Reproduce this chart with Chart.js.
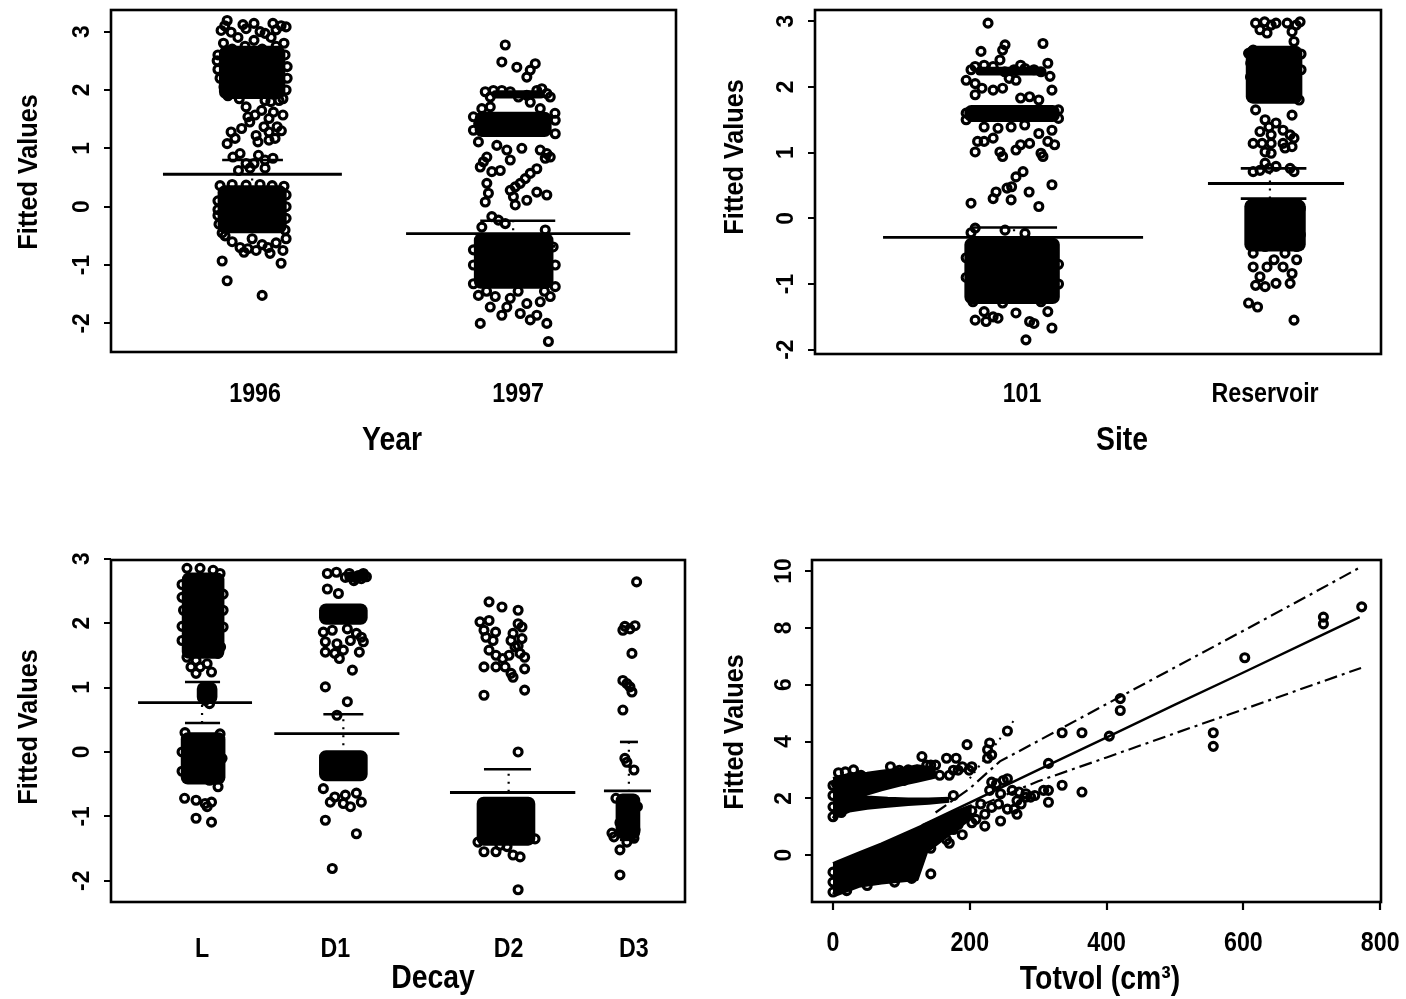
<!DOCTYPE html>
<html>
<head>
<meta charset="utf-8">
<title>Fitted values</title>
<script src="https://cdn.jsdelivr.net/npm/chart.js@4.4.1/dist/chart.umd.min.js"></script>
<style>
  html, body { margin: 0; padding: 0; background: #fff; }
  #wrap { position: relative; width: 1406px; height: 999px; overflow: hidden; }
  canvas { position: absolute; }
</style>
</head>
<body>
<div id="wrap">
  <canvas id="cYear" width="703" height="500" style="left:0;top:0"></canvas>
  <canvas id="cSite" width="703" height="500" style="left:703px;top:0"></canvas>
  <canvas id="cDecay" width="703" height="499" style="left:0;top:500px"></canvas>
  <canvas id="cTotvol" width="703" height="499" style="left:703px;top:500px"></canvas>
</div>
<script>
// ---------------- Year ----------------
const yearCats = ['1996', '1997'];
const yearPos = [1, 2];
const stripTicks = [-2, -1, 0, 1, 2, 3];
const yearMean = [0.556, -0.46];
const yearLimits = [[0.31, 0.80], [-0.68, -0.24]];
// dense bands: [jitter centre, low, high, jitter spread]
const yearCore1996 = [[-0.011, 1.85, 2.75, 0.25], [-0.011, -0.45, 0.36, 0.26]];
const yearCore1997 = [[-0.019, 1.2, 1.62, 0.29], [0.0, 1.86, 1.99, 0.2], [-0.017, -1.4, -0.46, 0.30]];
// individual fitted values: [jitter, value]
const yearPts1996 = [
  [-0.129,3.02],[-0.106,3.19],[-0.091,2.99],[-0.065,2.9],[-0.034,3.05],[-0.004,3.14],[-0.004,2.85],[0.038,2.97],
  [0.068,3.14],[0.061,2.9],[0.099,3.1],[0.118,3.08],[0.019,3.0],[-0.046,3.12],[-0.115,3.1],[0.08,3.03],
  [-0.144,2.5],[-0.141,2.35],[-0.133,2.2],[0.114,2.6],[0.122,2.4],[0.122,2.2],[0.118,2.0],[-0.118,2.05],
  [-0.103,1.9],[0.106,1.85],[-0.087,2.7],[-0.038,2.75],[0.08,2.75],[0.027,2.7],[-0.141,2.6],[-0.12,2.8],
  [0.11,2.8],[-0.06,1.85],[0.06,1.8],
  [-0.091,1.28],[-0.106,1.08],[-0.076,1.17],[-0.051,1.34],[-0.034,1.71],[-0.027,1.54],[0,1.57],[0.025,1.65],
  [0.038,1.82],[0.034,1.37],[0.004,1.22],[0.053,1.28],[0.076,1.17],[0.084,1.37],[0.106,1.57],[0.091,1.82],
  [0.053,1.51],[0.011,1.11],[0.053,1.14],[-0.02,1.45],[0.07,1.62],[0.1,1.3],
  [-0.084,0.85],[-0.057,0.91],[-0.034,0.74],[-0.004,0.74],[0.013,0.88],[0.038,0.8],[-0.063,0.62],[0.038,0.66],
  [-0.019,0.66],[0.068,0.83],
  [-0.133,0.36],[-0.087,0.38],[-0.034,0.37],[0.019,0.38],[0.065,0.36],[0.11,0.35],
  [-0.141,0.1],[-0.141,-0.05],[0.118,0.2],[0.118,0.0],[0.118,-0.2],
  [-0.114,-0.5],[-0.087,-0.6],[-0.057,-0.7],[-0.027,-0.72],[0.004,-0.75],[0.027,-0.65],[0.049,-0.7],[0.08,-0.62],
  [0.106,-0.75],[0.118,-0.55],[0.114,-0.4],[-0.137,-0.3],[-0.141,-0.15],[-0.125,-0.45],[-0.042,-0.78],[0.057,-0.8],
  [-0.011,-0.55],
  [-0.125,-0.93],[-0.106,-1.27],[0.027,-1.52],[0.099,-0.97]
];
const yearPts1997 = [
  [-0.049,2.77],[-0.062,2.48],[-0.005,2.39],[0.033,2.22],[0.046,2.34],[0.065,2.45],
  [-0.125,1.97],[-0.094,1.99],[-0.062,1.99],[-0.03,1.97],[0.001,1.88],[0.033,1.91],[0.071,1.99],[0.09,2.02],
  [0.109,1.94],[0.122,1.88],[-0.106,1.88],[0.046,1.79],[0.084,1.68],[-0.138,1.68],[-0.106,1.71],
  [-0.17,1.54],[-0.17,1.31],[0.141,1.48],[0.141,1.25],[-0.15,1.42],[0.14,1.6],
  [-0.151,1.11],[-0.081,1.05],[-0.03,0.8],[-0.068,0.62],[-0.144,0.68],[-0.119,0.85],[0.109,0.91],[0.084,0.97],
  [0.103,0.83],[0.122,0.85],[0.014,1.0],[-0.043,0.97],[-0.132,0.77],[-0.1,0.6],
  [0.071,0.65],[0.046,0.57],[0.027,0.48],[0.008,0.4],[-0.011,0.34],[-0.03,0.28],
  [-0.119,0.4],[-0.113,0.23],[-0.125,0.08],[-0.018,0.17],[-0.011,0.03],[0.033,0.11],[0.071,0.25],[0.109,0.2],
  [-0.1,-0.17],[-0.075,-0.23],[-0.049,-0.29],[-0.138,-0.35],[0.103,-0.4],
  [-0.17,-1.32],[0.141,-1.37],[0.133,-0.69],[-0.17,-0.74],[-0.17,-1.0],[0.141,-1.0],[-0.12,-1.45],[0.0,-1.45],[0.1,-1.45],
  [-0.151,-1.52],[-0.087,-1.54],[-0.043,-1.72],[-0.062,-1.86],[0.008,-1.83],[0.046,-1.94],[0.071,-1.86],
  [0.109,-2.0],[0.122,-1.54],[-0.144,-2.0],[0.115,-2.31],[-0.106,-1.72],[0.033,-1.66],[0.084,-1.63],[-0.03,-1.57]
];

// ---------------- Site ----------------
const siteCats = ['101', 'Reservoir'];
const sitePos = [1, 2];
const siteMean = [-0.29, 0.53];
const siteLimits = [[-0.44, -0.14], [0.30, 0.76]];
const siteCore101 = [[-0.041, 1.47, 1.72, 0.39], [-0.05, 2.18, 2.3, 0.28], [-0.041, -1.3, -0.3, 0.39]];
const siteCoreRes = [[0.037, 1.75, 2.62, 0.23], [0.041, -0.5, 0.28, 0.25]];
const sitePts101 = [
  [-0.14,2.97],[-0.169,2.54],[-0.08,2.56],[-0.07,2.64],[0.086,2.66],[0.106,2.36],[-0.091,2.41],[-0.006,2.33],
  [-0.21,2.26],[-0.193,2.31],[-0.156,2.33],[-0.119,2.31],[-0.071,2.23],[-0.033,2.26],[0.012,2.28],[0.049,2.26],
  [0.078,2.23],[0.115,2.16],[0.123,1.95],[-0.23,2.1],[-0.193,2.05],[-0.165,1.98],[-0.119,1.95],[-0.08,1.98],
  [-0.025,2.1],[-0.006,1.83],[0.031,1.85],[0.069,1.8],[-0.193,1.88],[-0.053,2.13],
  [-0.23,1.6],[0.15,1.65],[-0.23,1.5],[0.15,1.52],
  [-0.193,1.01],[-0.156,1.17],[-0.119,1.22],[-0.091,1.01],[-0.08,0.94],[-0.025,1.04],[-0.006,1.12],[0.031,1.14],
  [0.078,0.99],[0.106,1.17],[0.134,1.12],[0.123,1.34],[0.069,1.29],[-0.099,1.37],[-0.045,1.39],[0.011,1.42],
  [-0.156,1.39],[0.086,0.94],[-0.183,1.17],
  [0.004,0.71],[-0.025,0.63],[-0.043,0.48],[-0.062,0.46],[0.029,0.4],[-0.107,0.4],[-0.119,0.3],[-0.045,0.28],
  [0.123,0.51],[-0.21,0.23],[0.069,0.18],
  [-0.193,-0.15],[-0.07,-0.18],[0.012,-0.23],[-0.21,-0.22],
  [-0.23,-0.6],[-0.23,-0.9],[0.15,-0.7],[0.15,-1.0],
  [-0.202,-1.27],[-0.156,-1.42],[-0.119,-1.5],[-0.193,-1.55],[-0.148,-1.57],[-0.099,-1.52],[-0.025,-1.44],
  [0.031,-1.57],[0.049,-1.6],[0.106,-1.42],[0.123,-1.67],[0.016,-1.85],[0.078,-1.27],[-0.08,-1.29]
];
const sitePtsRes = [
  [-0.039,2.97],[-0.002,2.99],[0.025,2.94],[0.091,2.97],[0.128,2.94],[-0.021,2.87],[0.111,2.84],[0.008,2.82],
  [0.045,2.97],[0.144,2.99],
  [-0.059,2.36],[-0.049,1.95],[-0.039,1.65],[0.119,2.69],[0.148,2.26],[0.14,1.8],[0.111,1.57],[-0.049,2.56],
  [-0.068,2.51],[0.148,2.5],[-0.06,2.15],
  [0,1.5],[0.016,1.39],[0.045,1.45],[0.074,1.34],[0.103,1.27],[0.119,1.22],[0.025,1.27],[-0.021,1.32],
  [-0.049,1.14],[-0.012,1.14],[0.025,1.14],[0.074,1.14],[0.111,1.09],[0,1.01],[0.025,0.99],[0.082,1.07],
  [-0.049,0.71],[-0.021,0.73],[0.016,0.76],[0,0.84],[0.103,0.76],[0.119,0.71],[0.045,0.79],
  [-0.06,0.2],[0.145,0.15],[-0.06,-0.2],[0.145,-0.25],
  [-0.049,-0.74],[-0.021,-0.89],[-0.039,-1.02],[0,-1.04],[0.045,-0.99],[0.103,-0.99],[0.111,-0.84],[0.074,-0.74],
  [0.13,-0.63],[0.13,-0.43],[0.037,-0.63],[0.008,-0.74],[-0.068,-1.29],[-0.031,-1.35],[0.119,-1.55],
  [-0.049,-0.53],[0,-0.43],[0.082,-0.53]
];

// ---------------- Decay ----------------
const decayCats = ['L', 'D1', 'D2', 'D3'];
const decayPos = [1, 2, 3.3, 4.24];
const decayMean = [0.766, 0.285, -0.63, -0.605];
const decayLimits = [[0.45, 1.085], [-0.02, 0.585], [-0.99, -0.27], [-1.365, 0.155]];
const decayCoreL = [[0.008, 1.45, 2.78, 0.315], [0.038, 0.75, 1.08, 0.15], [0.008, -0.5, 0.3, 0.33]];
const decayCoreD1 = [[0.06, 1.98, 2.3, 0.36], [0.16, 2.66, 2.78, 0.18], [0.06, -0.45, 0.02, 0.36]];
const decayCoreD2 = [[-0.02, -1.45, -0.7, 0.435]];
const decayCoreD3 = [[-0.045, -1.35, -0.65, 0.18]];
const decayPtsL = [
  [-0.113,2.85],[-0.015,2.85],[0.083,2.82],[0.135,2.77],[-0.15,2.6],[0.158,2.45],[-0.139,2.2],[0.158,1.94],
  [-0.15,1.73],[0.139,1.63],[0.071,1.65],[-0.113,1.47],[-0.045,1.42],[0.12,1.53],[-0.045,1.22],[0.071,1.24],
  [-0.015,1.32],[0.038,1.37],[-0.083,1.32],[-0.15,2.4],[0.158,2.2],[-0.15,1.95],
  [0.023,0.8],[0.056,0.75],
  [-0.128,0.3],[0.135,0.28],[-0.15,0.0],[0.15,-0.1],[-0.15,-0.3],
  [-0.131,-0.72],[-0.045,-0.75],[0.023,-0.8],[0.071,-0.78],[0.12,-0.54],[0.09,-0.33],[0.056,-0.44],
  [-0.045,-1.03],[0.071,-1.09],[0.038,-0.85]
];
const decayPtsD1 = [
  [-0.06,2.77],[0.008,2.79],[0.075,2.71],[0.173,2.74],[0.21,2.77],[0.139,2.66],[-0.06,2.53],[0.023,2.46],
  [0.195,2.69],[0.105,2.77],[0.113,2.72],[0.158,2.7],[0.233,2.72],[0.2,2.74],
  [-0.09,1.86],[-0.023,1.89],[0.09,1.91],[0.158,1.84],[0.195,1.78],[-0.075,1.71],[0.012,1.68],[0.113,1.73],
  [0.21,1.71],[-0.075,1.55],[-0.004,1.53],[0.06,1.58],[0.18,1.55],[0.03,1.45],[0.128,1.27],[-0.075,1.01],
  [0.09,0.78],[0.012,0.57],
  [-0.09,-0.57],[-0.004,-0.7],[-0.038,-0.78],[0.075,-0.67],[0.158,-0.64],[0.113,-0.85],[0.195,-0.78],
  [-0.075,-1.06],[0.158,-1.27],[-0.023,-1.81],[0.06,-0.8]
];
const decayPtsD2 = [
  [-0.147,2.33],[-0.05,2.25],[0.071,2.2],[-0.215,2.02],[-0.147,2.04],[-0.185,1.89],[-0.098,1.86],[-0.17,1.78],
  [-0.117,1.73],[0.071,1.99],[0.1,1.94],[0.033,1.84],[0.018,1.73],[0.048,1.63],[-0.147,1.58],[-0.095,1.5],
  [-0.045,1.45],[0.003,1.5],[0.086,1.53],[0.12,1.47],[-0.027,1.32],[-0.095,1.32],[-0.185,1.32],[0.018,1.22],
  [0.033,1.16],[0.12,1.29],[-0.185,0.88],[0.12,0.96],[0.071,1.65],[0.1,1.76],[0.071,0.0],
  [-0.185,-1.55],[-0.095,-1.55],[-0.012,-1.47],[0.033,-1.6],[0.086,-1.63],[-0.065,-1.45],[0.071,-2.14],
  [-0.23,-1.4],[0.198,-1.35]
];
const decayPtsD3 = [
  [0.02,2.64],[-0.083,1.89],[-0.03,1.91],[0.008,1.96],[-0.068,1.95],[-0.015,1.53],[-0.083,1.11],[-0.053,1.06],
  [-0.03,1.01],[-0.015,0.93],[-0.083,0.65],[-0.068,-0.1],[-0.053,-0.16],[0.0,-0.28],
  [-0.135,-0.72],[0.026,-0.85],[-0.105,-1.1],[0.008,-1.21],[-0.15,-1.32],[-0.053,-1.4],[0.0,-1.34],
  [-0.105,-1.52],[-0.105,-1.91],[-0.038,-1.01],[-0.165,-1.26]
];

// ---------------- Totvol ----------------
const totvolTicksX = [0, 200, 400, 600, 800];
const totvolTicksY = [0, 2, 4, 6, 8, 10];
const fitX = [130, 200, 300, 404, 500, 600, 700, 770];
const fitY = [1.05, 1.85, 3.0, 4.19, 5.3, 6.43, 7.58, 8.38];
const bandUpX = [150, 200, 244, 300, 400, 500, 600, 700, 772];
const bandUpY = [1.5, 2.35, 3.3, 4.02, 5.32, 6.61, 7.9, 9.2, 10.15];
const bandLoX = [150, 200, 300, 400, 500, 600, 700, 772];
const bandLoY = [1.0, 1.6, 2.6, 3.44, 4.29, 5.13, 5.98, 6.59];
const guideX = [200, 268];
const guideY = [2.7, 4.85];
// outlines of the densely packed low-volume values
const denseLowX = [0, 5, 38, 71, 104, 123, 137, 176, 203];
const denseLowTop = [-0.3, -0.25, 0.08, 0.4, 0.75, 0.95, 1.1, 1.5, 1.75];
const denseLowBot = [-1.3, -1.4, -1.1, -0.98, -0.9, -0.86, 0.12, 0.84, 1.32];
const denseUpX = [0, 24, 50, 71, 104, 123, 150];
const denseUpTop = [2.7, 2.85, 2.88, 2.95, 3.05, 3.15, 3.05];
const denseUpBot = [1.3, 1.95, 2.15, 2.3, 2.5, 2.6, 2.75];
const denseFanX = [0, 24, 50, 80, 110, 140, 170];
const denseFanTop = [2.2, 2.15, 2.05, 2.0, 1.98, 1.98, 2.0];
const denseFanBot = [1.3, 1.55, 1.65, 1.72, 1.78, 1.83, 1.9];
const totvolPts = [
  [773,8.74],[717,8.38],[717,8.14],[602,6.95],[420,5.51],[420,5.09],[404,4.19],[364,4.31],[335,4.31],[315,3.23],
  [556,4.31],[556,3.83],[364,2.22],[335,2.46],[315,2.28],[315,1.86],
  [255,4.37],[229,3.95],[226,3.71],[226,3.41],[232,3.53],[196,3.89],[180,3.41],[166,3.41],[156,2.81],[143,3.17],
  [130,3.47],[84,3.11],[41,2.81],[18,2.93],[5,2.51],[189,3.11],[199,2.99],[203,3.11],[183,2.99],[170,2.81],
  [176,2.99],[150,3.17],[137,3.17],[117,2.75],[104,2.63],[64,2.75],[97,2.99],[143,2.87],[123,2.99],[176,2.1],
  [25,2.7],[50,2.6],[75,2.8],[110,3.0],[0,1.35],[0,1.7],[0,2.1],[0,2.45],[12,1.5],[8,2.9],[30,3.0],
  [127,0.12],[143,0.24],[170,0.42],[166,0.54],[189,0.72],[203,1.14],[209,1.26],[222,1.44],[232,1.68],[222,1.02],
  [245,1.2],[269,1.44],[275,1.8],[282,2.04],[269,1.92],[255,1.62],[242,1.8],[229,2.28],[239,2.51],[249,2.63],
  [255,2.69],[232,2.57],[245,2.16],[272,2.22],[262,2.28],[282,2.16],[265,1.62],[289,2.04],[295,2.1],[308,2.28],
  [216,1.8],[203,1.56],[196,1.38],[183,1.08],[176,0.9],[156,0.72],[143,-0.66],
  [0,-1.3],[0,-0.95],[0,-0.6],[20,-1.25],[50,-1.07],[90,-0.95],[115,-0.82]
];

// ---------------- drawing helpers ----------------
const INK = '#000';
const FONT = '"Liberation Sans", Arial, Helvetica, sans-serif';

function drawLabel(ctx, txt, x, y, size, rot, sx) {
  ctx.save();
  ctx.translate(x, y);
  if (rot) ctx.rotate(rot);
  ctx.scale(sx, 1);
  ctx.font = 'bold ' + size + 'px ' + FONT;
  ctx.textAlign = 'center';
  ctx.textBaseline = 'middle';
  ctx.fillStyle = INK;
  ctx.fillText(txt, 0, 0);
  ctx.restore();
}

// box, tick marks, tick labels and axis titles, placed through the chart scales
const axesFrame = {
  id: 'axesFrame',
  afterDatasetsDraw(chart, args, o) {
    if (!o || !o.yTicks) return;
    const { ctx, chartArea: a } = chart;
    const xs = chart.scales.x, ys = chart.scales.y;
    ctx.save();
    ctx.strokeStyle = INK;
    ctx.lineWidth = 2.6;
    ctx.strokeRect(a.left, a.top, a.right - a.left, a.bottom - a.top);
    ctx.lineWidth = 2.2;
    ctx.beginPath();
    o.yTicks.forEach(v => {
      const p = Math.round(ys.getPixelForValue(v));
      ctx.moveTo(a.left - 7, p); ctx.lineTo(a.left, p);
    });
    if (o.xTicks) o.xTicks.forEach(v => {
      const p = Math.round(xs.getPixelForValue(v));
      ctx.moveTo(p, a.bottom); ctx.lineTo(p, a.bottom + 8);
    });
    ctx.stroke();
    o.yTicks.forEach(v => drawLabel(ctx, String(v), o.yTickX, ys.getPixelForValue(v), o.yTickSize, -Math.PI / 2, 0.95));
    if (o.xTicks) o.xTicks.forEach(v => drawLabel(ctx, String(v), xs.getPixelForValue(v), o.xLabelY, o.xLabelSize, 0, o.squeeze));
    if (o.cats) o.cats.forEach((c, i) => drawLabel(ctx, c, xs.getPixelForValue(o.catPos[i]), o.xLabelY, o.xLabelSize, 0, o.squeeze));
    drawLabel(ctx, o.xTitle, o.xTitleX, o.xTitleY, o.titleSize, 0, o.squeeze);
    drawLabel(ctx, o.yTitle, o.yTitleX, o.yTitleY, o.yTitleSize, -Math.PI / 2, 0.9);
    ctx.restore();
  }
};
Chart.register(axesFrame);

const pointStyle = {
  type: 'scatter', showLine: false, pointRadius: 4, pointBorderWidth: 3.1,
  pointBorderColor: INK, pointBackgroundColor: 'rgba(0,0,0,0)', borderColor: INK, order: 2
};

function segment(x0, x1, y0, y1, width, dash) {
  return {
    type: 'line', data: [{ x: x0, y: y0 }, { x: x1, y: y1 }], borderColor: INK, borderWidth: width,
    borderDash: dash || [], pointRadius: 0, fill: false, order: 1, borderCapStyle: 'butt'
  };
}

function buildStrip(pos, groups, spans, ppu) {
  const ds = [];
  groups.forEach((g, i) => {
    g.cores.forEach(c => ds.push({
      type: 'bar', data: [{ x: pos[i] + c[0], y: [c[1], c[2]] }], barThickness: c[3] * ppu,
      grouped: false, backgroundColor: INK, borderColor: INK, borderWidth: 0,
      borderRadius: 7, borderSkipped: false, order: 3
    }));
    ds.push(Object.assign({}, pointStyle, { data: g.pts.map(p => ({ x: pos[i] + p[0], y: p[1] })) }));
    const L = spans.long[i], S = spans.short[i], d = spans.dot[i];
    ds.push(segment(pos[i] + L[0], pos[i] + L[1], g.mean, g.mean, 2.8));
    ds.push(segment(pos[i] + S[0], pos[i] + S[1], g.lim[1], g.lim[1], 2.6));
    ds.push(segment(pos[i] + S[0], pos[i] + S[1], g.lim[0], g.lim[0], 2.6));
    ds.push(segment(pos[i] + d, pos[i] + d, g.lim[0], g.lim[1], 2.2, [2, 6]));
  });
  return ds;
}

function makeChart(id, pad, xr, yr, datasets, frame) {
  return new Chart(document.getElementById(id), {
    type: 'scatter',
    data: { datasets },
    options: {
      responsive: false, animation: false, devicePixelRatio: 1, events: [],
      layout: { padding: pad },
      scales: {
        x: { type: 'linear', display: false, min: xr[0], max: xr[1], offset: false },
        y: { type: 'linear', display: false, min: yr[0], max: yr[1] }
      },
      plugins: { legend: { display: false }, tooltip: { enabled: false }, axesFrame: frame }
    }
  });
}

const W = 703;
const textSizes = { yTickSize: 24, xLabelSize: 27, titleSize: 33, yTitleSize: 28, squeeze: 0.86 };

// Year panel
(function () {
  const pad = { left: 111, right: 27, top: 10, bottom: 148 };
  const xr = [0.4525, 2.6], yr = [-2.49, 3.37];
  const ppu = (W - pad.left - pad.right) / (xr[1] - xr[0]);
  const groups = [
    { cores: yearCore1996, pts: yearPts1996, mean: yearMean[0], lim: yearLimits[0] },
    { cores: yearCore1997, pts: yearPts1997, mean: yearMean[1], lim: yearLimits[1] }
  ];
  const spans = {
    long: [[-0.35, 0.33], [-0.426, 0.426]],
    short: [[-0.125, 0.106], [-0.144, 0.141]],
    dot: [-0.011, -0.019]
  };
  makeChart('cYear', pad, xr, yr, buildStrip(yearPos, groups, spans, ppu), Object.assign({
    yTicks: stripTicks, yTickX: 82, cats: yearCats, catPos: yearPos, xLabelY: 395,
    xTitle: 'Year', xTitleX: 392, xTitleY: 441, yTitle: 'Fitted Values', yTitleX: 29, yTitleY: 172
  }, textSizes));
})();

// Site panel
(function () {
  const pad = { left: 112, right: 25, top: 10, bottom: 146 };
  const xr = [0.148, 2.477], yr = [-2.065, 3.17];
  const ppu = (W - pad.left - pad.right) / (xr[1] - xr[0]);
  const groups = [
    { cores: siteCore101, pts: sitePts101, mean: siteMean[0], lim: siteLimits[0] },
    { cores: siteCoreRes, pts: sitePtsRes, mean: siteMean[1], lim: siteLimits[1] }
  ];
  const spans = {
    long: [[-0.572, 0.498], [-0.235, 0.325]],
    short: [[-0.21, 0.144], [-0.1, 0.17]],
    dot: [-0.033, 0.02]
  };
  makeChart('cSite', pad, xr, yr, buildStrip(sitePos, groups, spans, ppu), Object.assign({
    yTicks: stripTicks, yTickX: 83, cats: siteCats, catPos: sitePos, xLabelY: 395,
    xTitle: 'Site', xTitleX: 419, xTitleY: 441, yTitle: 'Fitted Values', yTitleX: 32, yTitleY: 157
  }, textSizes));
})();

// Decay panel
(function () {
  const pad = { left: 111, right: 18, top: 60, bottom: 97 };
  const xr = [0.317, 4.623], yr = [-2.33, 2.98];
  const ppu = (W - pad.left - pad.right) / (xr[1] - xr[0]);
  const groups = [
    { cores: decayCoreL, pts: decayPtsL, mean: decayMean[0], lim: decayLimits[0] },
    { cores: decayCoreD1, pts: decayPtsD1, mean: decayMean[1], lim: decayLimits[1] },
    { cores: decayCoreD2, pts: decayPtsD2, mean: decayMean[2], lim: decayLimits[2] },
    { cores: decayCoreD3, pts: decayPtsD3, mean: decayMean[3], lim: decayLimits[3] }
  ];
  const spans = {
    long: [[-0.48, 0.375], [-0.458, 0.48], [-0.44, 0.5], [-0.225, 0.128]],
    short: [[-0.128, 0.135], [-0.09, 0.21], [-0.185, 0.168], [-0.105, 0.03]],
    dot: [0.0, 0.06, 0.0, -0.038]
  };
  makeChart('cDecay', pad, xr, yr, buildStrip(decayPos, groups, spans, ppu), Object.assign({
    yTicks: stripTicks, yTickX: 82, cats: decayCats, catPos: decayPos, xLabelY: 450,
    xTitle: 'Decay', xTitleX: 433, xTitleY: 479, yTitle: 'Fitted Values', yTitleX: 29, yTitleY: 227
  }, textSizes));
})();

// Totvol panel
(function () {
  const pad = { left: 109, right: 25, top: 60, bottom: 97 };
  const xr = [-30.7, 801.2], yr = [-1.65, 10.39];
  const xy = (xs, ys) => xs.map((x, i) => ({ x, y: ys[i] }));
  const edge = (xs, ys, fill) => ({
    type: 'line', data: xy(xs, ys), borderColor: INK, backgroundColor: INK, borderWidth: 3,
    pointRadius: 0, fill: fill, order: 4, borderJoinStyle: 'round'
  });
  const ds = [
    edge(denseLowX, denseLowTop, '+1'), edge(denseLowX, denseLowBot, false),
    edge(denseUpX, denseUpTop, '+1'), edge(denseUpX, denseUpBot, false),
    edge(denseFanX, denseFanTop, '+1'), edge(denseFanX, denseFanBot, false),
    Object.assign({}, pointStyle, { data: totvolPts.map(p => ({ x: p[0], y: p[1] })) }),
    { type: 'line', data: xy(fitX, fitY), borderColor: INK, borderWidth: 2.4, pointRadius: 0, fill: false, order: 1 },
    { type: 'line', data: xy(bandUpX, bandUpY), borderColor: INK, borderWidth: 2.2, borderDash: [13, 5, 3, 5], pointRadius: 0, fill: false, order: 1 },
    { type: 'line', data: xy(bandLoX, bandLoY), borderColor: INK, borderWidth: 2.2, borderDash: [13, 5, 3, 5], pointRadius: 0, fill: false, order: 1 },
    { type: 'line', data: xy(guideX, guideY), borderColor: INK, borderWidth: 2, borderDash: [2, 5], pointRadius: 0, fill: false, order: 1 }
  ];
  makeChart('cTotvol', pad, xr, yr, ds, Object.assign({
    yTicks: totvolTicksY, yTickX: 81, xTicks: totvolTicksX, xLabelY: 444,
    xTitle: 'Totvol (cm\u00B3)', xTitleX: 397, xTitleY: 480, yTitle: 'Fitted Values', yTitleX: 32, yTitleY: 232
  }, textSizes));
})();
</script>
</body>
</html>
